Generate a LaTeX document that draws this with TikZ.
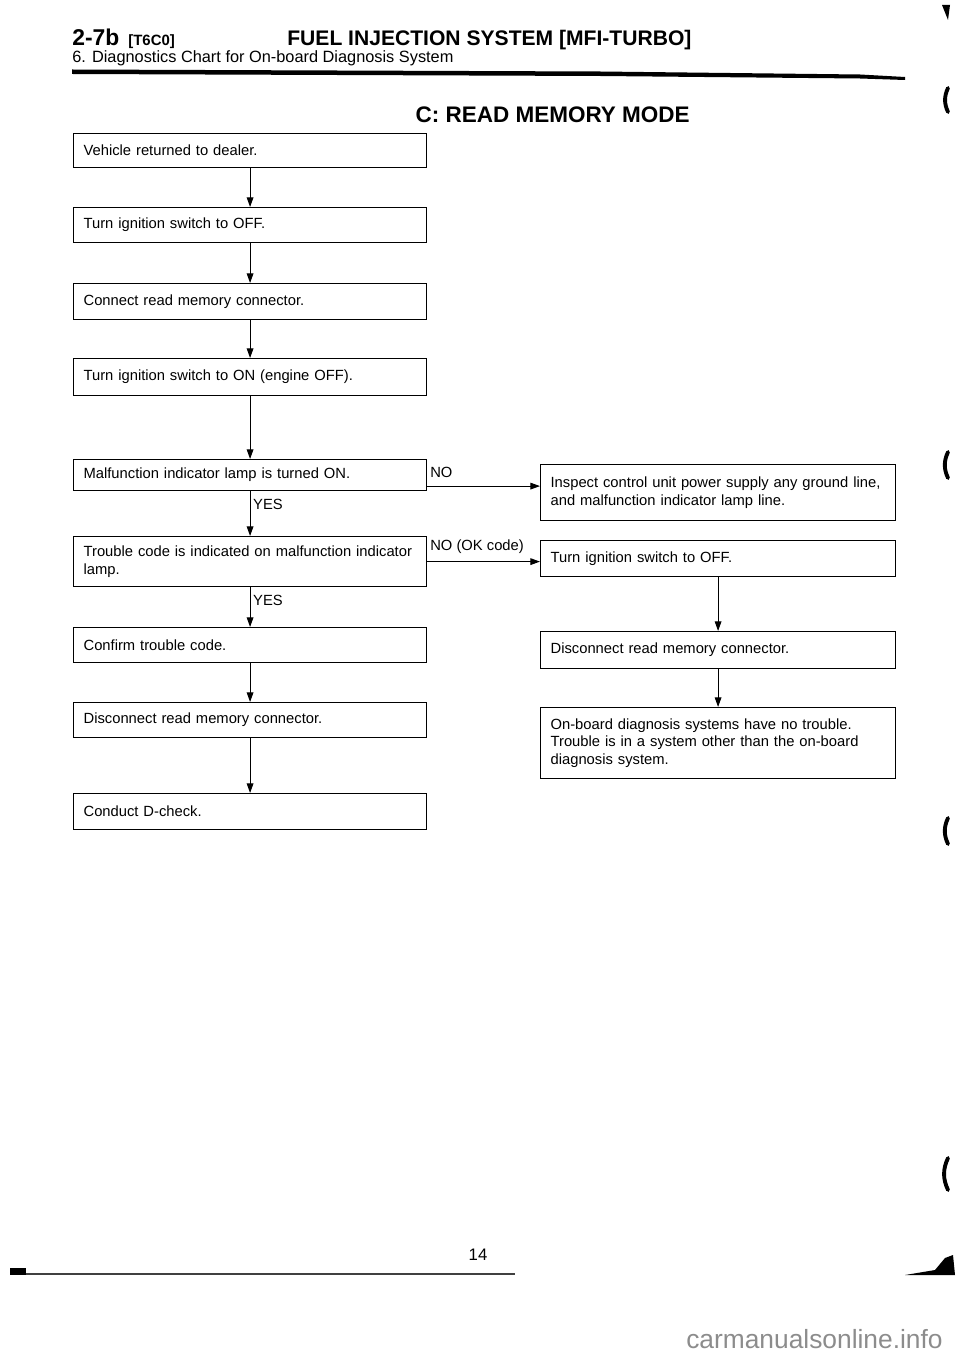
\documentclass[tikz,border=0pt]{standalone}
\usepackage{fontspec}
\setmainfont{Liberation Sans}
\usetikzlibrary{arrows.meta}

\begin{document}
\begin{tikzpicture}[x=0.02cm,y=-0.02cm,
box/.style={draw,line width=0.7pt,anchor=north west,inner xsep=0.2cm,inner ysep=2pt,text width=6.66cm,align=left,font=\fontsize{8.4}{10}\selectfont},
rbox/.style={box,text width=6.7cm},
arr/.style={line width=0.6pt,-{Triangle[length=5.5pt,width=3.8pt]}},
lbl/.style={font=\fontsize{8.4}{10}\selectfont,inner sep=1.5pt},
scanmark/.style={line width=2.2pt,line cap=round}]

\useasboundingbox (0,0) rectangle (960,1358);

% page header
\node[anchor=base west,inner sep=0,font=\bfseries\fontsize{13}{13}\selectfont] (pgno) at (72,46) {2-7b};
\node[anchor=base west,inner sep=0,font=\bfseries\fontsize{8.5}{9}\selectfont] (sect) at (128,46) {[T6C0]};
\node[anchor=base west,inner sep=0,font=\bfseries\fontsize{12}{13}\selectfont] (chap) at (287,46) {FUEL INJECTION SYSTEM [MFI-TURBO]};
\node[anchor=base west,inner sep=0,font=\fontsize{9.3}{10}\selectfont] (sub) at (72,63) {6. Diagnostics Chart for On-board Diagnosis System};
\fill (72,69.5) -- (600,71.5) -- (860,74.5) -- (905,77) -- (905,80) -- (860,78.5) -- (600,76) -- (72,74) -- cycle;
\node[anchor=base east,inner sep=0,font=\bfseries\fontsize{12.8}{13}\selectfont] (mode) at (690,123) {C: READ MEMORY MODE};

% main column
\node[box,minimum height=0.68cm] (ret) at (73,133) {Vehicle returned to dealer.};
\node[box,minimum height=0.7cm] (off1) at (73,207) {Turn ignition switch to OFF.};
\node[box,minimum height=0.72cm] (conn) at (73,283) {Connect read memory connector.};
\node[box,minimum height=0.74cm] (on) at (73,358) {Turn ignition switch to ON (engine OFF).};
\node[box,minimum height=0.62cm] (lamp) at (73,459) {Malfunction indicator lamp is turned ON.};
\node[box,minimum height=1.0cm] (code) at (73,536) {Trouble code is indicated on malfunction indicator\\lamp.};
\node[box,minimum height=0.7cm] (conf) at (73,627) {Confirm trouble code.};
\node[box,minimum height=0.7cm] (disc1) at (73,702) {Disconnect read memory connector.};
\node[box,minimum height=0.72cm] (dchk) at (73,793) {Conduct D-check.};

% right column
\node[rbox,minimum height=1.12cm] (insp) at (540,464) {Inspect control unit power supply any ground line,\\and malfunction indicator lamp line.};
\node[rbox,minimum height=0.72cm] (off2) at (540,540) {Turn ignition switch to OFF.};
\node[rbox,minimum height=0.74cm] (disc2) at (540,631) {Disconnect read memory connector.};
\node[rbox,minimum height=1.42cm] (ok) at (540,707) {On-board diagnosis systems have no trouble.\\Trouble is in a system other than the on-board\\diagnosis system.};

\draw[arr] (ret.south) -- (off1.north);
\draw[arr] (off1.south) -- (conn.north);
\draw[arr] (conn.south) -- (on.north);
\draw[arr] (on.south) -- (lamp.north);
\draw[arr] (lamp.south) -- node[lbl,pos=0,anchor=north west,yshift=-3pt]{YES} (code.north);
\draw[arr] (code.south) -- node[lbl,pos=0,anchor=north west,yshift=-3pt]{YES} (conf.north);
\draw[arr] (conf.south) -- (disc1.north);
\draw[arr] (disc1.south) -- (dchk.north);
\draw[arr] ([yshift=-0.22cm]lamp.east) -- node[lbl,pos=0,anchor=south west,yshift=3pt]{NO} ([yshift=-0.22cm]lamp.east -| insp.west);
\draw[arr] (code.east) -- node[lbl,pos=0,anchor=south west,yshift=3pt]{NO (OK code)} (code.east -| off2.west);
\draw[arr] (off2.south) -- (disc2.north);
\draw[arr] (disc2.south) -- (ok.north);

% page footer
\node[anchor=base,inner sep=0,font=\fontsize{9.5}{10}\selectfont] (num) at (478,1260) {14};
\draw[line width=1.2pt,black!75] (10,1274) -- (515,1274);
\fill (10,1268) rectangle (26,1275);
\fill (905,1275) -- (935,1270) -- (945,1258) -- (953,1255) -- (955,1275) -- cycle;
\node[anchor=base east,inner sep=0,text=black!45,font=\fontsize{15}{15}\selectfont] (wm) at (943,1348) {carmanualsonline.info};

% margin marks
\draw[scanmark] (948,88) to[bend right=25] (948,112);
\draw[scanmark] (948,452) to[bend right=25] (948,478);
\draw[scanmark] (948,818) to[bend right=25] (948,844);
\draw[scanmark] (948,1158) to[bend right=25] (948,1190);
\fill (942,5) -- (950,5) -- (948,20) -- cycle;
\end{tikzpicture}
\end{document}
